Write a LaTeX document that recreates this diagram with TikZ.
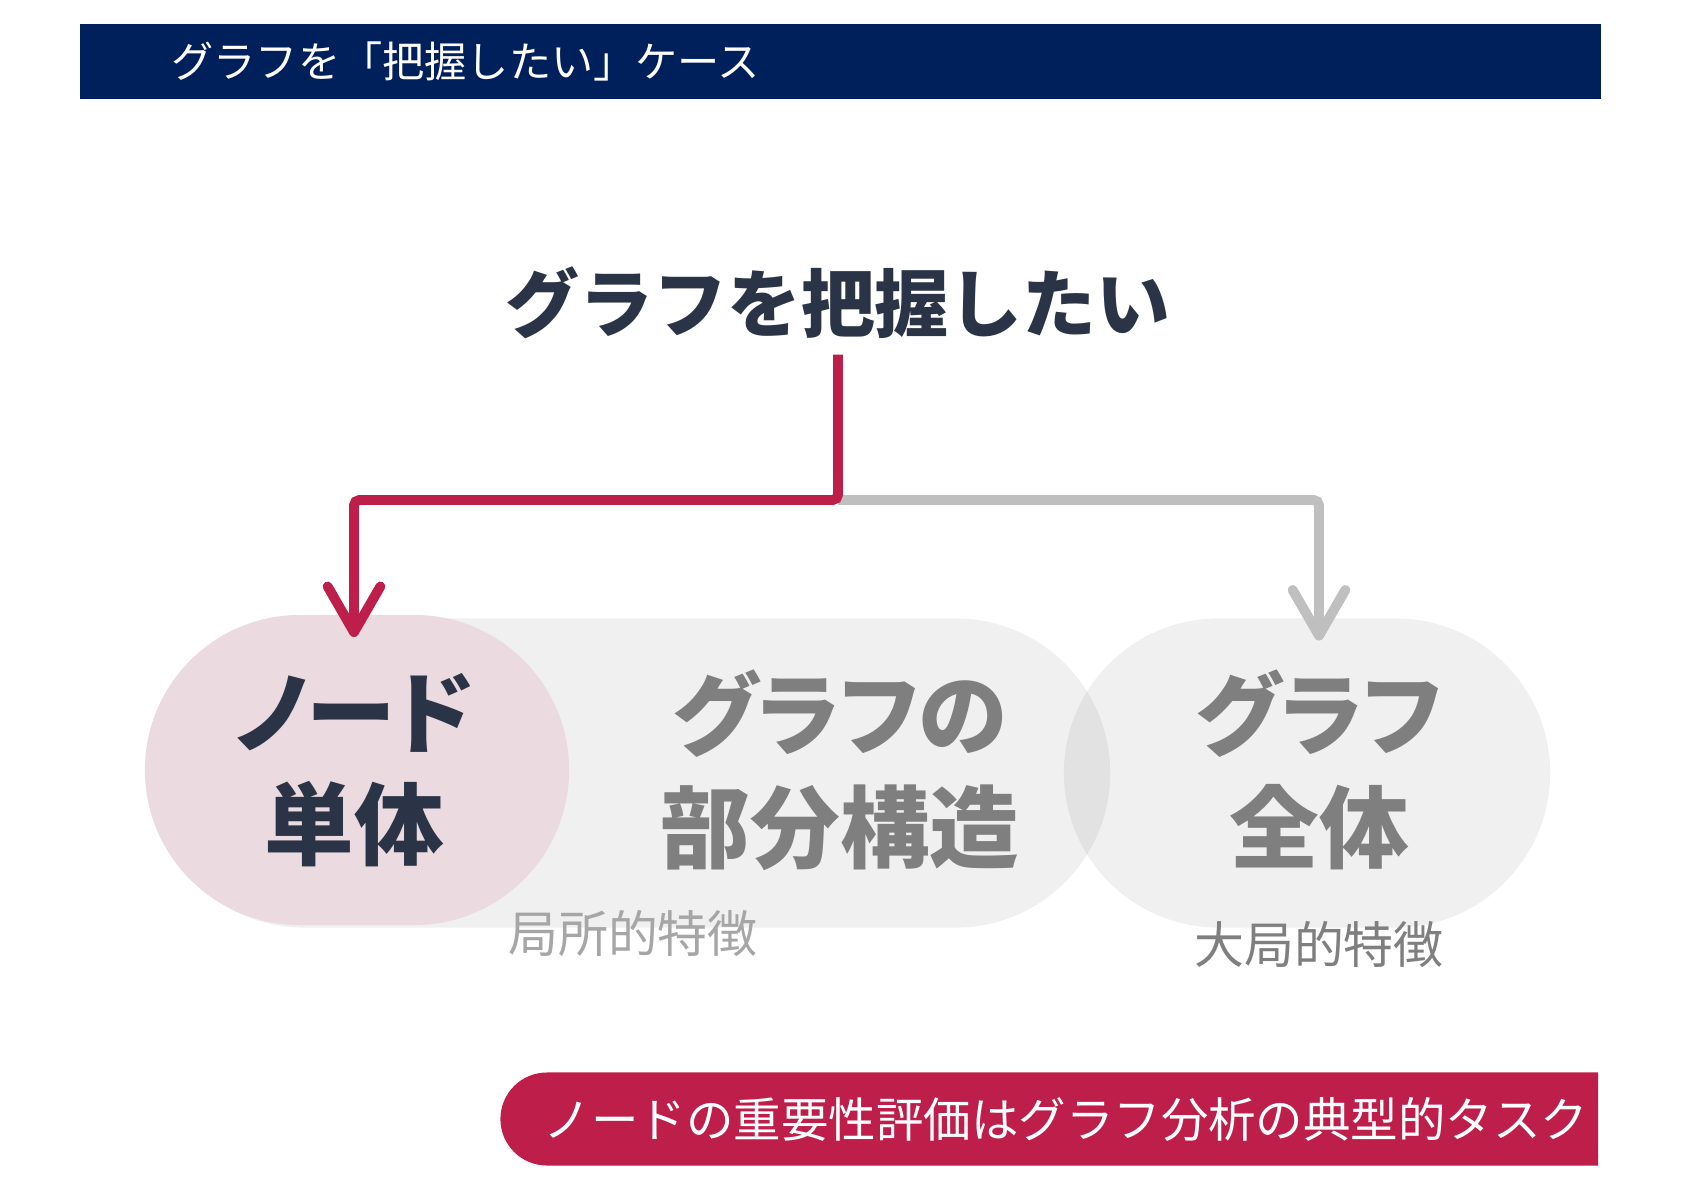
\documentclass[tikz,border=0pt]{standalone}
\usepackage{fontspec}
\setmainfont{Noto Sans CJK JP}
\newfontfamily\propjp[RawFeature=+palt]{Noto Sans CJK JP}
\usetikzlibrary{arrows.meta,shapes.misc}
\definecolor{navy}{HTML}{00205B}
\definecolor{crimson}{HTML}{BE1E4A}
\definecolor{ink}{HTML}{2B3447}
\definecolor{pinkfill}{HTML}{EBDADF}
\definecolor{linegray}{HTML}{BFBFBF}
\definecolor{textgray}{HTML}{7F7F7F}
\definecolor{paletext}{HTML}{A6A6A6}
\begin{document}
\begin{tikzpicture}[x=0.01cm,y=-0.01cm,
    pill/.style={rounded rectangle,minimum height=3.09cm,inner sep=0pt},
    big/.style={align=center,font=\propjp\bfseries\fontsize{25.5}{32}\selectfont},
    small/.style={font=\fontsize{14.2}{17}\selectfont},
    link/.style={line width=2.8pt,rounded corners=1.5pt,shorten >=-6.5pt,
      -{Straight Barb[length=13pt,width=15pt,round]}}]
  \useasboundingbox (0,0) rectangle (1684,1191);
  % header
  \fill[navy] (80,24) rectangle (1601,99);
  \node[anchor=west,text=white,font=\fontsize{12}{14}\selectfont] (head) at (159,61)
    {グラフを「把握したい」ケース};
  \node[text=ink,font=\bfseries\fontsize{21}{25}\selectfont,inner sep=2pt] (title) at (838,303)
    {グラフを把握したい};
  % pills
  \node[pill,minimum width=9.6cm,fill=black,fill opacity=0.06] (part) at (630,773) {};
  \node[pill,minimum width=4.86cm,fill=black,fill opacity=0.06] (whole) at (1307,773) {};
  \node[pill,minimum width=4.24cm,minimum height=3.1cm,fill=pinkfill] (single) at (357,770) {};
  \node[big,text=ink] (singletext) at (354,770) {ノード\\単体};
  \node[big,text=textgray] (parttext) at (840,770) {グラフの\\部分構造};
  \node[big,text=textgray] (wholetext) at (1319,770) {グラフ\\全体};
  \node[small,text=paletext] (localtext) at (633,933) {局所的特徴};
  \node[small,text=textgray] (globaltext) at (1319,944) {大局的特徴};
  % connectors
  \coordinate (split) at (838,500);
  \draw[link,linegray] (split) -| (wholetext |- whole.north);
  \draw[link,crimson,shorten <=2.2pt] (title.south) -- (split) -| (singletext |- single.north);
  % bottom message
  \node[rounded rectangle,rounded rectangle right arc=none,fill=crimson,text=white,
    minimum width=10.97cm,minimum height=0.93cm,inner sep=0pt,
    font=\fontsize{13.5}{16}\selectfont] (task) at (1052,1119)
    {\hspace*{8pt}ノードの重要性評価はグラフ分析の典型的タスク};
\end{tikzpicture}
\end{document}
